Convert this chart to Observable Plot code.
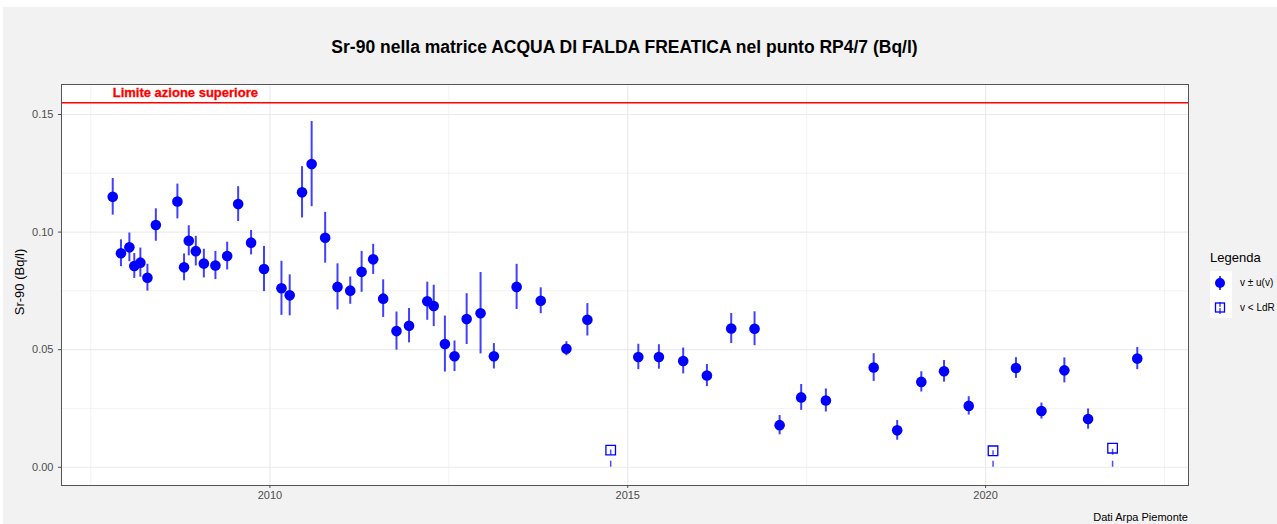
<!DOCTYPE html>
<html><head><meta charset="utf-8">
<script src="https://cdn.jsdelivr.net/npm/d3@7"></script>
<script src="https://cdn.jsdelivr.net/npm/@observablehq/plot@0.6"></script>
<style>
body{margin:0;background:#fff;font-family:"Liberation Sans",Arial,Helvetica,sans-serif;}
#bg{position:absolute;left:3px;top:7px;width:1274px;height:517px;background:#f2f2f2;}
#title{position:absolute;left:61px;width:1127px;top:37px;text-align:center;font-weight:bold;font-size:17.5px;line-height:20px;color:#000;}
#ytitle{position:absolute;left:19px;top:282px;transform:translate(-50%,-50%) rotate(-90deg);font-size:13px;white-space:nowrap;color:#000;}
#chart{position:absolute;left:0;top:70px;}
#legtitle{position:absolute;left:1210px;top:250px;font-size:13px;line-height:16px;color:#000;}
#legkeys{position:absolute;left:1210px;top:271px;}
.leglab{position:absolute;left:1240px;font-size:10px;line-height:12px;color:#000;white-space:nowrap;}
#caption{position:absolute;left:0;width:1188px;top:511px;text-align:right;font-size:11px;line-height:13px;color:#000;}
</style></head>
<body>
<div id="bg"></div>
<div id="title">Sr-90 nella matrice ACQUA DI FALDA FREATICA nel punto RP4/7 (Bq/l)</div>
<div id="ytitle">Sr-90 (Bq/l)</div>
<div id="chart"></div>
<div id="legtitle">Legenda</div>
<svg id="legkeys" width="22" height="47">
  <rect x="0" y="0" width="22" height="47" fill="#fff"/>
  <line x1="10" x2="10" y1="5" y2="19" stroke="blue" stroke-opacity="0.75" stroke-width="2"/>
  <circle cx="10" cy="12" r="5" fill="blue"/>
  <line x1="10" x2="10" y1="43" y2="37" stroke="blue" stroke-opacity="0.7" stroke-width="1.5"/>
  <line x1="10" x2="10" y1="31" y2="36" stroke="blue" stroke-opacity="0.7" stroke-width="1.5"/>
  <rect x="5.5" y="32" width="9" height="9" fill="none" stroke="blue" stroke-width="1.3"/>
</svg>
<div class="leglab" style="top:277px">v ± u(v)</div>
<div class="leglab" style="top:302px">v &lt; LdR</div>
<div id="caption">Dati Arpa Piemonte</div>
<script>
// ---- data ----
const dates = ["2007-10-22","2007-12-03","2008-01-15","2008-02-09","2008-03-11","2008-04-16","2008-05-29","2008-09-16","2008-10-20","2008-11-13","2008-12-19","2009-01-29","2009-03-29","2009-05-28","2009-07-23","2009-09-27","2009-12-02","2010-03-01","2010-04-12","2010-06-14","2010-08-02","2010-10-10","2010-12-12","2011-02-15","2011-04-14","2011-06-12","2011-08-02","2011-10-09","2011-12-12","2012-03-14","2012-04-16","2012-06-12","2012-07-31","2012-10-01","2012-12-11","2013-02-17","2013-06-13","2013-10-14","2014-02-22","2014-06-09","2015-02-24","2015-06-09","2015-10-11","2016-02-09","2016-06-12","2016-10-09","2017-02-14","2017-06-04","2017-10-08","2018-06-09","2018-10-07","2019-02-07","2019-06-03","2019-10-07","2020-06-04","2020-10-12","2021-02-06","2021-06-07","2022-02-13"];
const values = [0.1150,0.0910,0.0935,0.0856,0.0870,0.0806,0.1030,0.1130,0.0850,0.0963,0.0919,0.0866,0.0858,0.0898,0.1119,0.0955,0.0843,0.0761,0.0731,0.1169,0.1289,0.0976,0.0767,0.0751,0.0831,0.0884,0.0717,0.0579,0.0602,0.0706,0.0686,0.0524,0.0472,0.0630,0.0655,0.0472,0.0767,0.0708,0.0504,0.0627,0.0469,0.0469,0.0452,0.0390,0.0590,0.0589,0.0179,0.0297,0.0284,0.0424,0.0157,0.0363,0.0408,0.0261,0.0422,0.0239,0.0412,0.0205,0.0462];
const uncert = [0.0078,0.0057,0.0061,0.0053,0.0062,0.0057,0.0069,0.0074,0.0057,0.0064,0.0063,0.0061,0.0060,0.0059,0.0074,0.0052,0.0096,0.0115,0.0087,0.0109,0.0181,0.0108,0.0098,0.0058,0.0087,0.0064,0.0080,0.0081,0.0073,0.0081,0.0088,0.0119,0.0065,0.0108,0.0173,0.0054,0.0096,0.0055,0.0030,0.0069,0.0054,0.0052,0.0055,0.0047,0.0064,0.0072,0.0041,0.0055,0.0049,0.0059,0.0042,0.0043,0.0046,0.0039,0.0044,0.0034,0.0053,0.0043,0.0047];
const ldrDates = ["2014-10-06","2020-02-08","2021-10-10"];
const ldrValues = [0.0073,0.0070,0.0081];
const limitValue = 0.155;
const limitLabel = "Limite azione superiore";
const xMajorTicks = ["2010-01-01","2015-01-01","2020-01-01"];
const xMinorTicks = ["2007-07-02","2012-07-02","2017-07-02","2022-07-02"];
const yMajorTicks = [0, 0.05, 0.10, 0.15];
const yMinorTicks = [0.025, 0.075, 0.125];

// ---- build ----
const parse = d3.utcParse("%Y-%m-%d");
const meas = dates.map((d, i) => ({date: parse(d), v: values[i], u: uncert[i]}));
const ldr = ldrDates.map((d, i) => ({date: parse(d), v: ldrValues[i]}));
const [xa, xb] = d3.extent([...meas, ...ldr], d => d.date);
const ex = (xb - xa) * 0.05;
const xDomain = [new Date(+xa - ex), new Date(+xb + ex)];
const ey = (limitValue - 0) * 0.05;
const yDomain = [0 - ey, limitValue + ey];
const xMaj = xMajorTicks.map(parse), xMin = xMinorTicks.map(parse);

const chart = Plot.plot({
  width: 1195, height: 445,
  marginLeft: 61, marginRight: 7, marginTop: 14, marginBottom: 30,
  style: {background: "transparent", fontFamily: "'Liberation Sans', Arial, sans-serif"},
  x: {type: "utc", domain: xDomain},
  y: {domain: yDomain},
  marks: [
    Plot.frame({fill: "white"}),
    Plot.gridX(xMin, {stroke: "#ebebeb", strokeOpacity: 1, strokeWidth: 0.6}),
    Plot.gridY(yMinorTicks, {stroke: "#ebebeb", strokeOpacity: 1, strokeWidth: 0.6}),
    Plot.gridX(xMaj, {stroke: "#ebebeb", strokeOpacity: 1, strokeWidth: 1.2}),
    Plot.gridY(yMajorTicks, {stroke: "#ebebeb", strokeOpacity: 1, strokeWidth: 1.2}),
    Plot.ruleY([limitValue], {stroke: "red", strokeWidth: 1.5}),
    Plot.text([limitLabel], {x: () => meas[0].date, y: () => limitValue, text: d => d, textAnchor: "start", dy: -10, fill: "red", stroke: "red", strokeWidth: 0.3, fontWeight: "bold", fontSize: 13}),
    Plot.ruleX(meas, {x: "date", y1: d => d.v - d.u, y2: d => d.v + d.u, stroke: "blue", strokeWidth: 2, strokeOpacity: 0.75}),
    Plot.dot(meas, {x: "date", y: "v", r: 5.3, fill: "blue"}),
    Plot.ruleX(ldr, {x: "date", y1: () => 0, y2: "v", stroke: "blue", strokeWidth: 1.5, strokeOpacity: 0.7, strokeDasharray: "6,6"}),
    Plot.dot(ldr, {x: "date", y: "v", symbol: "square", r: 5.4, stroke: "blue", fill: "none", strokeWidth: 1.3}),
    Plot.frame({stroke: "#555", strokeWidth: 1}),
    Plot.axisX(xMaj, {tickSize: 3, tickPadding: 3, tickFormat: d3.utcFormat("%Y"), fontSize: 11, color: "#4d4d4d", label: null}),
    Plot.axisY(yMajorTicks, {tickSize: 3, tickPadding: 5, tickFormat: d3.format(".2f"), fontSize: 11, color: "#4d4d4d", label: null})
  ]
});
document.getElementById("chart").appendChild(chart);
</script>
</body></html>
